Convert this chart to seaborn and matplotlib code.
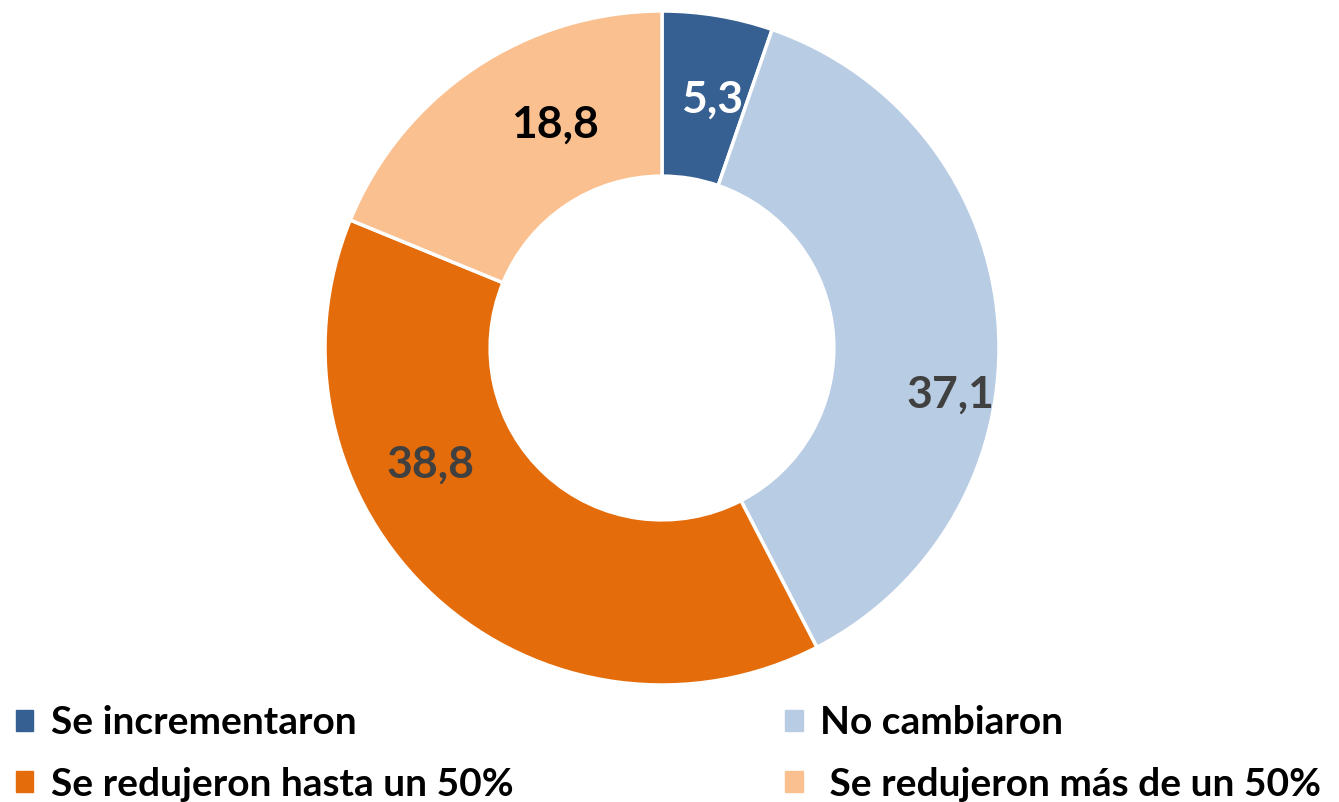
import matplotlib
matplotlib.use("Agg")
import matplotlib.pyplot as plt
import matplotlib.patches as mpatches
import seaborn as sns

sns.set_style("white")
plt.rcParams["font.family"] = ["Lato", "DejaVu Sans"]

# Data
categories = ["Se incrementaron", "No cambiaron", "Se redujeron hasta un 50%", " Se redujeron más de un 50%"]
values = [5.3, 37.1, 38.8, 18.8]
colors = ["#366092", "#b8cce4", "#e46c0a", "#fac090"]
label_colors = ["white", "#404040", "#404040", "black"]
# label placement (axes units, ring radius = 1)
label_pos = [(0.148, 0.736), (0.855, -0.139), (-0.688, -0.347), (-0.318, 0.662)]

fig = plt.figure(figsize=(13.39, 8.02), dpi=100)
ax = fig.add_axes([325 / 1339, 1 - 685 / 802, 674 / 1339, 674 / 802])

wedges, texts = ax.pie(
    values,
    colors=colors,
    startangle=90,
    counterclock=False,
    radius=1.0,
    wedgeprops=dict(width=0.49, edgecolor="white", linewidth=2.5),
)
ax.set_xlim(-1, 1)
ax.set_ylim(-1, 1)
ax.set_aspect("equal")
ax.axis("off")

# value labels
for (x, y), v, c in zip(label_pos, values, label_colors):
    ax.text(x, y, f"{v:.1f}".replace(".", ","),
            ha="center", va="center", fontsize=32, fontweight="bold", color=c)

# legend
handles = [mpatches.Patch(color=c, label=l) for c, l in zip(colors, categories)]
order = [0, 2, 1, 3]
fig.legend([handles[i] for i in order], [categories[i] for i in order],
           loc="lower left", bbox_to_anchor=(0.0, -0.019), ncol=2, frameon=False,
           prop=dict(size=28, weight="bold"), labelcolor="black",
           handlelength=0.45, handleheight=0.45,
           handletextpad=0.45, columnspacing=7.0, labelspacing=0.68,
           borderaxespad=0.0)

fig.savefig("out.png", dpi=100, facecolor="white")
